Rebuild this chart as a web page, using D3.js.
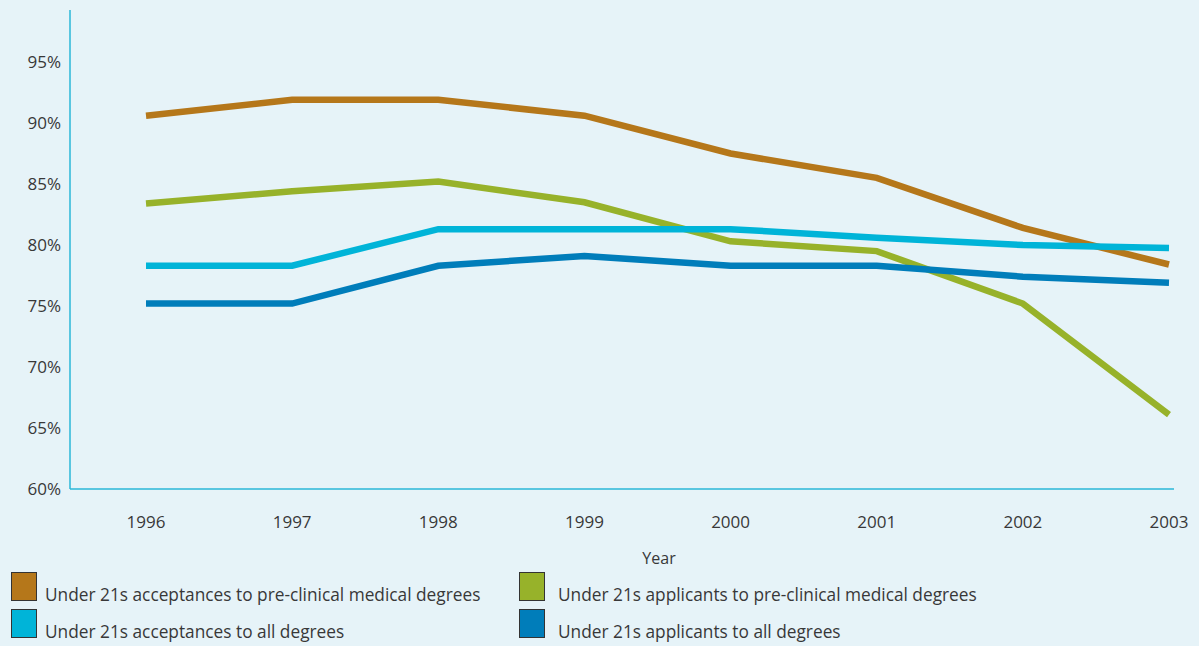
<!DOCTYPE html>
<html>
<head>
<meta charset="utf-8">
<script src="https://cdn.jsdelivr.net/npm/d3@7"></script>
<style>
  body { margin: 0; background: #e6f3f8; }
  svg { display: block; font-family: "Open Sans", "Noto Sans", sans-serif; }
</style>
</head>
<body>
<svg width="1199" height="646"></svg>
<script>
// chart data
const years = [1996, 1997, 1998, 1999, 2000, 2001, 2002, 2003];
const accMedical = [90.6, 91.9, 91.9, 90.6, 87.5, 85.5, 81.4, 78.4];
const appMedical = [83.4, 84.4, 85.2, 83.5, 80.3, 79.5, 75.2, 66.1];
const accAll = [78.3, 78.3, 81.3, 81.3, 81.3, 80.6, 80.0, 79.75];
const appAll = [75.2, 75.2, 78.3, 79.1, 78.3, 78.3, 77.4, 76.9];
const yTicks = [60, 65, 70, 75, 80, 85, 90, 95];

const seriesNames = [
    "Under 21s acceptances to pre-clinical medical degrees",
    "Under 21s applicants to pre-clinical medical degrees",
    "Under 21s acceptances to all degrees",
    "Under 21s applicants to all degrees"
];
const colors = ["#b5771a", "#97b22a", "#00b4d8", "#007dba"];
const series = [accMedical, appMedical, accAll, appAll];

const svg = d3.select("svg");
svg.append("rect").attr("width", 1199).attr("height", 646).attr("fill", "#e6f3f8");

const x = d3.scaleLinear().domain([1996, 2003]).range([146, 1169]);
const y = d3.scaleLinear().domain([60, 95]).range([489, 62]);

// axes lines
svg.append("line")
    .attr("x1", 70).attr("x2", 70).attr("y1", 10).attr("y2", 489)
    .attr("stroke", "#2ab7d8").attr("stroke-width", 1.5);
svg.append("line")
    .attr("x1", 70).attr("x2", 1174).attr("y1", 489).attr("y2", 489)
    .attr("stroke", "#2ab7d8").attr("stroke-width", 1.5);

// y tick labels
svg.append("g")
    .selectAll("text")
    .data(yTicks)
    .join("text")
    .attr("x", 61)
    .attr("y", d => y(d))
    .attr("dy", "0.35em")
    .attr("text-anchor", "end")
    .attr("font-size", 17)
    .attr("fill", "#383838")
    .text(d => d + "%");

// x tick labels
svg.append("g")
    .selectAll("text")
    .data(years)
    .join("text")
    .attr("x", d => x(d))
    .attr("y", 528)
    .attr("text-anchor", "middle")
    .attr("font-size", 17)
    .attr("fill", "#383838")
    .text(d => d);

svg.append("text")
    .attr("x", 659).attr("y", 564)
    .attr("text-anchor", "middle")
    .attr("font-size", 16)
    .attr("fill", "#383838")
    .text("Year");

// lines
const line = d3.line()
    .x((d, i) => x(years[i]))
    .y(d => y(d));

svg.append("g")
    .selectAll("path")
    .data(series)
    .join("path")
    .attr("d", line)
    .attr("fill", "none")
    .attr("stroke", (d, i) => colors[i])
    .attr("stroke-width", 6.5);

// legend
const legendPos = [[11, 572], [519, 572], [11, 609], [519, 609]];
const lg = svg.append("g")
    .selectAll("g")
    .data(seriesNames)
    .join("g")
    .attr("transform", (d, i) => `translate(${legendPos[i][0]},${legendPos[i][1]})`);

lg.append("rect")
    .attr("x", 0.5).attr("y", 0.5)
    .attr("width", 25).attr("height", 28)
    .attr("fill", (d, i) => colors[i])
    .attr("stroke", "#333").attr("stroke-width", 1);

lg.append("text")
    .attr("x", (d, i) => i % 2 ? 39 : 34)
    .attr("y", 29)
    .attr("font-size", 17.3)
    .attr("fill", "#383838")
    .text(d => d);
</script>
</body>
</html>
